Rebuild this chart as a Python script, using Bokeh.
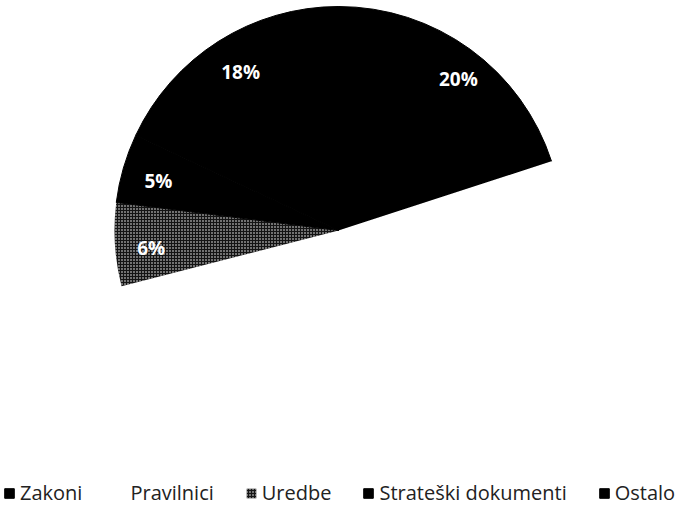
import math
from bokeh.plotting import figure
from bokeh.models import Range1d, Legend, LegendItem, ColumnDataSource
from bokeh.core.properties import value
from bokeh.embed import file_html
from bokeh.resources import INLINE

categories = ["Zakoni", "Pravilnici", "Uredbe", "Strateški dokumenti", "Ostalo"]
values = [20, 51, 6, 5, 18]
labels = ["20%", "", "6%", "5%", "18%"]

fills = ["#000000", "#ffffff", "#141414", "#000000", "#000000"]
hatches = [None, None, "dot", None, None]

W, H = 683, 506
p = figure(width=W, height=H, output_backend="svg", toolbar_location=None,
           x_range=Range1d(8, 8 + W), y_range=Range1d(-(8 + H), -8),
           min_border=0, outline_line_color=None)
p.axis.visible = False
p.grid.visible = False
p.background_fill_color = "white"
p.border_fill_color = "white"

cx, cy, R = 346, -238, 224
total = sum(values)
start = math.pi / 2
items = []
lx, ly, lt = [], [], []
for cat, v, lab, fc, hp in zip(categories, values, labels, fills, hatches):
    end = start - 2 * math.pi * v / total
    kw = dict(fill_color=fc, line_color=fc if fc == "#000000" else None, line_width=1)
    if hp:
        kw.update(hatch_pattern=hp, hatch_color="white", hatch_scale=3, hatch_weight=1.0)
    r = p.wedge(x=cx, y=cy, radius=R, start_angle=start, end_angle=end,
                direction="clock", **kw)
    items.append(LegendItem(label=cat, renderers=[r]))
    mid = (start + end) / 2
    if lab:
        lx.append(cx + 0.865 * R * math.cos(mid))
        ly.append(cy + 0.865 * R * math.sin(mid))
        lt.append(lab)
    start = end

src = ColumnDataSource(dict(x=lx, y=ly, t=lt))
p.text(x="x", y="y", text="t", source=src, text_color="white",
       text_font=value("Open Sans"), text_font_style="bold",
       text_font_size="19px", text_align="center", text_baseline="middle",
       x_offset=6, y_offset=5)

legend = Legend(items=items, orientation="horizontal", location=(3, 0),
                label_text_font="Open Sans", label_text_font_size="20px",
                label_text_color="#222222", glyph_width=12, glyph_height=12,
                label_standoff=5, spacing=31, padding=0, margin=0,
                label_height=16,
                border_line_color=None, background_fill_alpha=0)
p.add_layout(legend, "center")

open("out.html", "w").write(file_html(p, INLINE))
